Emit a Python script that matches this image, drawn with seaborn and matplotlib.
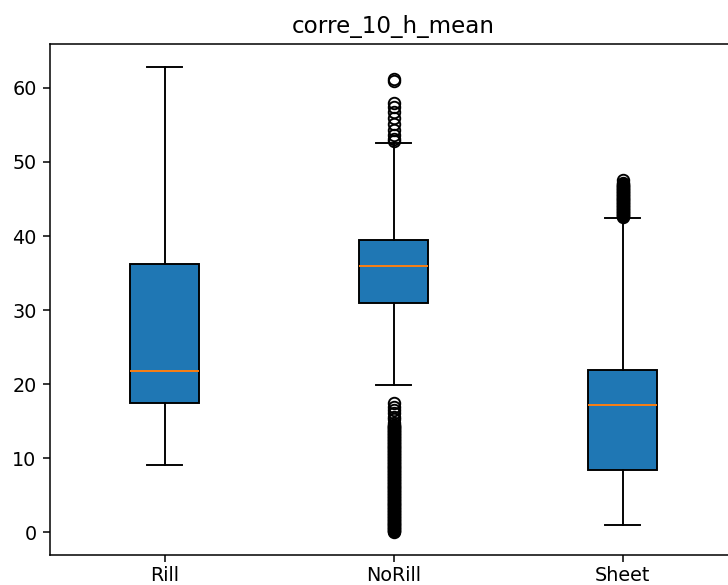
import matplotlib
matplotlib.use("Agg")
import matplotlib.pyplot as plt
import seaborn as sns

# ---- data ----
categories = ["Rill", "NoRill", "Sheet"]
title = "corre_10_h_mean"

whisker_low = [9.05, 19.85, 0.9]
q1 = [17.5, 31.0, 8.33]
median = [21.8, 35.95, 17.12]
q3 = [36.25, 39.43, 21.88]
whisker_high = [62.8, 52.55, 42.5]

rill_outliers = []
norill_outliers = [
    61.2, 60.9, 58.0, 57.4, 56.7, 55.9, 55.1, 54.3, 53.6, 53.1, 52.8,
    17.4, 16.9, 16.5, 16.1, 15.6, 15.3, 14.8, 14.5, 14.4, 14.3, 14.2,
    14.1, 14.0, 13.9, 13.8, 13.7, 13.6, 13.5, 13.4, 13.3, 13.2, 13.1,
    13.0, 12.9, 12.8, 12.7, 12.6, 12.5, 12.4, 12.3, 12.2, 12.1, 12.0,
    11.9, 11.8, 11.7, 11.6, 11.5, 11.4, 11.3, 11.2, 11.1, 11.0, 10.9,
    10.8, 10.7, 10.6, 10.5, 10.4, 10.3, 10.2, 10.1, 10.0, 9.9, 9.8,
    9.7, 9.6, 9.5, 9.4, 9.3, 9.2, 9.1, 9.0, 8.9, 8.8, 8.7, 8.6, 8.5,
    8.4, 8.3, 8.2, 8.1, 8.0, 7.9, 7.8, 7.7, 7.6, 7.5, 7.4, 7.3, 7.2,
    7.1, 7.0, 6.9, 6.8, 6.7, 6.6, 6.5, 6.4, 6.3, 6.2, 6.1, 6.0, 5.9,
    5.8, 5.7, 5.6, 5.5, 5.4, 5.3, 5.2, 5.1, 5.0, 4.9, 4.8, 4.7, 4.6,
    4.5, 4.4, 4.3, 4.2, 4.1, 4.0, 3.9, 3.8, 3.7, 3.6, 3.5, 3.4, 3.3,
    3.2, 3.1, 3.0, 2.9, 2.8, 2.7, 2.6, 2.5, 2.4, 2.3, 2.2, 2.1, 2.0,
    1.9, 1.8, 1.7, 1.6, 1.5, 1.4, 1.3, 1.2, 1.1, 1.0, 0.9, 0.8, 0.7,
    0.6, 0.5, 0.4, 0.3, 0.2, 0.1, 0.05,
]
sheet_outliers = [
    47.5, 47.2, 47.0, 46.9, 46.8, 46.7, 46.6, 46.5, 46.4, 46.3, 46.2,
    46.1, 46.0, 45.9, 45.8, 45.7, 45.6, 45.5, 45.4, 45.3, 45.2, 45.1,
    45.0, 44.9, 44.8, 44.7, 44.6, 44.5, 44.4, 44.3, 44.2, 44.1, 44.0,
    43.9, 43.8, 43.7, 43.6, 43.5, 43.4, 43.3, 43.2, 43.1, 43.0, 42.9,
    42.8, 42.7, 42.6,
]
outliers = [rill_outliers, norill_outliers, sheet_outliers]

# ---- figure ----
DPI = 138
fig = plt.figure(figsize=(728 / DPI, 585 / DPI), dpi=DPI)
ax = fig.add_axes([50 / 728, 30 / 585, 687 / 728, 511 / 585])

stats = []
for i, cat in enumerate(categories):
    stats.append(dict(label=cat, whislo=whisker_low[i], q1=q1[i], med=median[i],
                      q3=q3[i], whishi=whisker_high[i], fliers=outliers[i]))

box_color = sns.color_palette("tab10")[0]
bp = ax.bxp(stats, patch_artist=True, showfliers=True)
for patch in bp["boxes"]:
    patch.set_facecolor(box_color)
    patch.set_edgecolor("black")

ax.tick_params(axis="x", pad=2.2)
ax.set_title(title)
fig.savefig("out.png", dpi=DPI)
